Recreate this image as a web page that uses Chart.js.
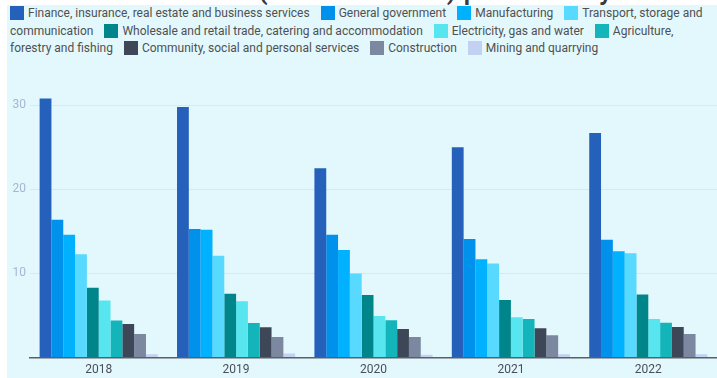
<!DOCTYPE html>
<html>
<head>
<meta charset="utf-8">
<script src="https://cdn.jsdelivr.net/npm/chart.js@4"></script>
<style>
    body {
        margin: 0;
        width: 717px;
        height: 378px;
        background: #ffffff;
        font-family: Roboto, "Noto Sans", sans-serif;
        overflow: hidden;
        position: relative;
    }
    .title-strip {
        position: absolute;
        left: 0;
        top: 0;
        width: 717px;
        height: 5px;
        overflow: hidden;
    }
    .title-strip h1 {
        position: absolute;
        left: 20px;
        top: -27px;
        margin: 0;
        font-size: 28px;
        font-weight: 500;
        color: #3a3a3a;
        white-space: nowrap;
    }
    .panel {
        position: absolute;
        left: 7px;
        top: 5px;
        width: 710px;
        height: 373px;
        background: #e2f8fd;
    }
    #legend {
        position: absolute;
        left: 3px;
        top: 0;
        width: 700px;
        font-size: 12px;
        line-height: 17.5px;
        color: #505050;
    }
    #legend .item {
        margin-right: 8px;
    }
    #legend .box {
        display: inline-block;
        width: 14px;
        height: 14px;
        margin-right: 4px;
        vertical-align: -3px;
    }
    .chart-wrap {
        position: absolute;
        left: 1px;
        top: 52px;
        width: 716px;
        height: 331px;
    }
</style>
</head>
<body>
<div class="title-strip"><h1>Gross value added (% of total GDP) per industry</h1></div>
<div class="panel"><div id="legend"></div></div>
<div class="chart-wrap"><canvas id="gdpChart"></canvas></div>

<script>
// Years on the x axis
const years = ['2018', '2019', '2020', '2021', '2022'];

// Industries and their bar colours
const industries = [
    'Finance, insurance, real estate and business services',
    'General government',
    'Manufacturing',
    'Transport, storage and communication',
    'Wholesale and retail trade, catering and accommodation',
    'Electricity, gas and water',
    'Agriculture, forestry and fishing',
    'Community, social and personal services',
    'Construction',
    'Mining and quarrying'
];
const colors = ['#2561bb', '#0091ec', '#00b1ff', '#58d9ff', '#00858a', '#57e6f0', '#13b4ba', '#3d4758', '#7b889f', '#c2d1f2'];

// Share per industry, one value per year
const finance = [30.8, 29.8, 22.5, 25.0, 26.7];
const government = [16.4, 15.3, 14.6, 14.1, 14.0];
const manufacturing = [14.6, 15.2, 12.8, 11.7, 12.65];
const transport = [12.3, 12.1, 10.0, 11.2, 12.4];
const wholesale = [8.3, 7.6, 7.45, 6.85, 7.5];
const electricity = [6.8, 6.7, 4.95, 4.8, 4.6];
const agriculture = [4.4, 4.1, 4.45, 4.6, 4.15];
const community = [4.0, 3.6, 3.4, 3.5, 3.65];
const construction = [2.8, 2.45, 2.45, 2.65, 2.8];
const mining = [0.4, 0.5, 0.35, 0.4, 0.4];

const seriesValues = [finance, government, manufacturing, transport, wholesale,
    electricity, agriculture, community, construction, mining];

// y axis labels that get printed
const yTickLabels = [10, 20, 30];

// Build the html legend (it wraps like normal text)
document.getElementById('legend').innerHTML = industries.map((name, i) =>
    `<span class="item"><i class="box" style="background:${colors[i]}"></i>${name}</span>`
).join(' ');

const ctx = document.getElementById('gdpChart').getContext('2d');
const gdpChart = new Chart(ctx, {
    type: 'bar',
    data: {
        labels: years,
        datasets: industries.map((name, i) => ({
            label: name,
            data: seriesValues[i],
            backgroundColor: colors[i],
            borderWidth: 0,
            barPercentage: 1,
            categoryPercentage: 0.86
        }))
    },
    options: {
        responsive: true,
        maintainAspectRatio: false,
        animation: false,
        layout: {
            padding: { top: 1, right: 0, bottom: 1, left: 0 }
        },
        plugins: {
            legend: { display: false },
            tooltip: { enabled: false }
        },
        scales: {
            x: {
                grid: { display: false, drawTicks: false },
                border: { color: '#5a5f66', width: 1.5 },
                ticks: {
                    color: '#4a4f57',
                    padding: 5,
                    font: { family: 'Roboto', size: 12 }
                }
            },
            y: {
                min: 0,
                max: 35,
                afterFit: function (scale) {
                    scale.width = 29;
                },
                ticks: {
                    stepSize: 10,
                    padding: 4,
                    color: '#a8b4d4',
                    font: { family: 'Roboto', size: 12 },
                    callback: function (value) {
                        return yTickLabels.includes(value) ? value : '';
                    }
                },
                grid: {
                    drawTicks: false,
                    color: function (c) {
                        return yTickLabels.includes(c.tick.value) ? '#cfeaf8' : 'rgba(0,0,0,0)';
                    }
                },
                border: { display: false }
            }
        }
    }
});
</script>
</body>
</html>
